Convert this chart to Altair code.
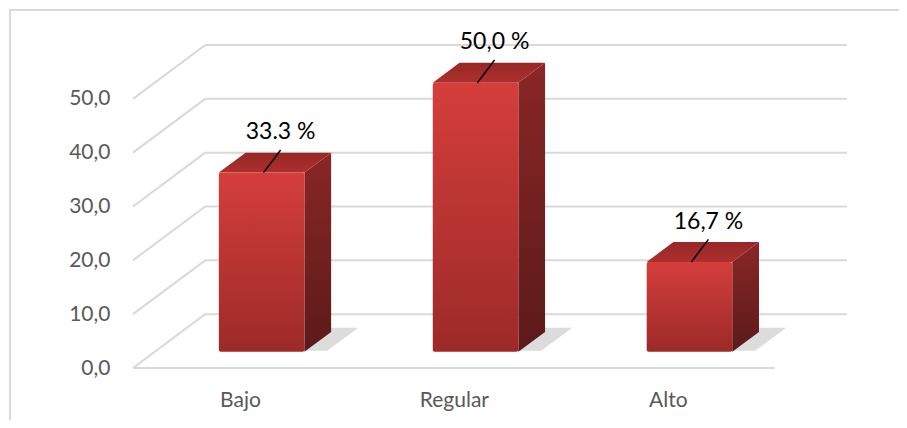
import json
import altair as alt
import pandas as pd

# ---- data ----
categories = ["Bajo", "Regular", "Alto"]
values = [33.3, 50.0, 16.7]
value_labels = ["33.3 %", "50,0 %", "16,7 %"]
y_ticks = [0, 10, 20, 30, 40, 50]

# ---- 3D geometry (in scale units) ----
DX = 0.3375   # full depth, x units
DY = 10.0     # full depth, y units
F0, F1 = 0.30, 0.67   # bar front/back depth fraction
HW = 0.20     # bar half width

front_rows, side_rows, top_rows, shadow_rows, lab_rows, lead_rows = [], [], [], [], [], []
for i, (c, v, lab) in enumerate(zip(categories, values, value_labels)):
    cx = i + 0.5
    front_rows.append(dict(cat=c, x=cx - HW + F0 * DX, x2=cx + HW + F0 * DX,
                           y=F0 * DY, y2=F0 * DY + v))
    for f in (F0, F1):
        side_rows.append(dict(cat=c, x=cx + HW + f * DX, y=f * DY, y2=f * DY + v))
        top_rows.append(dict(cat=c, y=f * DY + v, x=cx - HW + f * DX, x2=cx + HW + f * DX))
    for f in (F0 + 0.02, F1 + 0.08):
        shadow_rows.append(dict(cat=c, y=f * DY, x=cx + HW - 0.05 + f * DX,
                                x2=cx + HW + 0.10 + f * DX))
    lab_rows.append(dict(cat=c, x=cx + 0.19, y=v + 10.5, t=lab))
    lead_rows.append(dict(cat=c, x=cx + 0.11, y=v + 3.0, x2=cx + 0.19, y2=v + 7.2))

front = pd.DataFrame(front_rows)
side = pd.DataFrame(side_rows)
top = pd.DataFrame(top_rows)
shadow = pd.DataFrame(shadow_rows)
labs = pd.DataFrame(lab_rows)
leads = pd.DataFrame(lead_rows)

back_grid = pd.DataFrame(dict(v=y_ticks))
back_grid["y"] = back_grid["v"] + DY
back_grid["x"] = DX
back_grid["x2"] = len(categories) + DX
side_grid = pd.DataFrame(dict(v=y_ticks))
side_grid["x"] = 0.0
side_grid["x2"] = DX
side_grid["y"] = side_grid["v"]
side_grid["y2"] = side_grid["v"] + DY
floor_front = pd.DataFrame(dict(x=[0.0], x2=[float(len(categories))], y=[0.0]))

xs = alt.Scale(domain=[0, len(categories) + DX], nice=False, zero=False)
ys = alt.Scale(domain=[0, 60], nice=False)

GRID = "#d9d9d9"

cat_expr = json.dumps(categories) + "[floor(datum.value)]"

l_back = alt.Chart(back_grid).mark_rule(color=GRID, strokeWidth=2).encode(
    x=alt.X("x:Q", scale=xs,
            axis=alt.Axis(values=[i + 0.5 for i in range(len(categories))],
                          labelExpr=cat_expr, title=None, domain=False, ticks=False,
                          grid=False, labelFont="Lato", labelFontSize=21,
                          labelColor="#595959", labelPadding=21)),
    x2="x2:Q",
    y=alt.Y("y:Q", scale=ys,
            axis=alt.Axis(values=y_ticks, title=None, domain=False, ticks=False, grid=False,
                          labelExpr="replace(format(datum.value, '.1f'), '.', ',')",
                          labelFont="Lato", labelFontSize=21, labelColor="#595959",
                          labelPadding=23)),
)
l_side = alt.Chart(side_grid).mark_rule(color=GRID, strokeWidth=2).encode(
    x=alt.X("x:Q", scale=xs), x2="x2:Q", y=alt.Y("y:Q", scale=ys), y2="y2:Q")
l_floor = alt.Chart(floor_front).mark_rule(color=GRID, strokeWidth=2).encode(
    x=alt.X("x:Q", scale=xs), x2="x2:Q", y=alt.Y("y:Q", scale=ys))

l_shadow = alt.Chart(shadow).mark_area(orient="horizontal", color="#8a8a8a", opacity=0.3).encode(
    y=alt.Y("y:Q", scale=ys), x=alt.X("x:Q", scale=xs), x2="x2:Q", detail="cat:N")

side_grad = alt.LinearGradient(gradient="linear", x1=0, x2=0, y1=0, y2=1,
                               stops=[alt.GradientStop(color="#8a2626", offset=0),
                                      alt.GradientStop(color="#5c1a1a", offset=1)])
front_grad = alt.LinearGradient(gradient="linear", x1=0, x2=0, y1=0, y2=1,
                                stops=[alt.GradientStop(color="#d43e3b", offset=0),
                                       alt.GradientStop(color="#9c2a28", offset=1)])
top_grad = alt.LinearGradient(gradient="linear", x1=0, x2=0, y1=0, y2=1,
                              stops=[alt.GradientStop(color="#962826", offset=0),
                                     alt.GradientStop(color="#ad2f2d", offset=1)])

l_sideface = alt.Chart(side).mark_area(color=side_grad).encode(
    x=alt.X("x:Q", scale=xs), y=alt.Y("y:Q", scale=ys), y2="y2:Q", detail="cat:N")
l_topface = alt.Chart(top).mark_area(orient="horizontal", color=top_grad).encode(
    y=alt.Y("y:Q", scale=ys), x=alt.X("x:Q", scale=xs), x2="x2:Q", detail="cat:N")
l_front = alt.Chart(front).mark_rect(color=front_grad, cornerRadius=2).encode(
    x=alt.X("x:Q", scale=xs), x2="x2:Q", y=alt.Y("y:Q", scale=ys), y2="y2:Q")

l_lead = alt.Chart(leads).mark_rule(color="black", strokeWidth=1.5).encode(
    x=alt.X("x:Q", scale=xs), x2="x2:Q", y=alt.Y("y:Q", scale=ys), y2="y2:Q")
l_text = alt.Chart(labs).mark_text(font="Lato", fontSize=23, color="black",
                                   baseline="middle", align="center").encode(
    x=alt.X("x:Q", scale=xs), y=alt.Y("y:Q", scale=ys), text="t:N")

border = alt.Chart(floor_front).mark_rect(fill=None, stroke=GRID, strokeWidth=2).encode(
    x=alt.value(-123), y=alt.value(-35), x2=alt.value(1200), y2=alt.value(800))

chart = alt.layer(
    border, l_back, l_side, l_floor, l_shadow, l_sideface, l_topface, l_front, l_lead, l_text
).properties(
    width=714, height=323,
    autosize=alt.AutoSizeParams(type="none"),
    padding={"left": 125, "top": 37, "right": 52, "bottom": 52},
    background="white",
).configure_view(stroke=None)

chart.save("out.html", embed_options={"renderer": "svg", "actions": False})
